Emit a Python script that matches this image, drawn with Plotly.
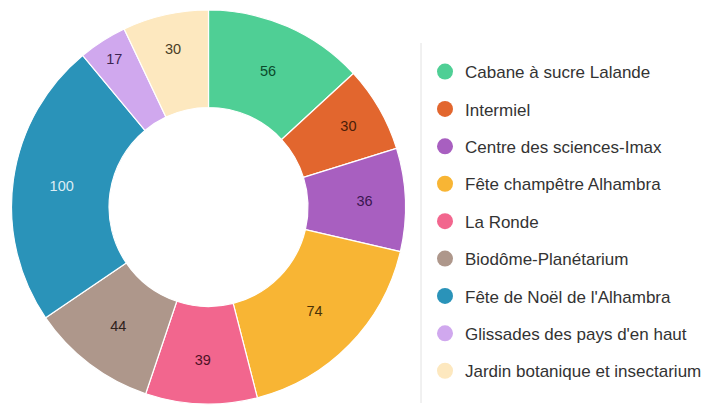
import plotly.graph_objects as go

labels = ["Cabane à sucre Lalande", "Intermiel", "Centre des sciences-Imax",
          "Fête champêtre Alhambra", "La Ronde", "Biodôme-Planétarium",
          "Fête de Noël de l'Alhambra", "Glissades des pays d'en haut",
          "Jardin botanique et insectarium"]
values = [56, 30, 36, 74, 39, 44, 100, 17, 30]
colors = ["#4fcf95", "#e2662e", "#a85fc0", "#f8b534", "#f2668e", "#ae978b",
          "#2a93b9", "#d0a8ee", "#fde8bf"]
text_colors = ["#0b4a2c", "#4a1d08", "#3a1650", "#4a3308", "#4e1226", "#2e221c",
               "#dcedf5", "#3c2450", "#4a3e26"]

W, H = 704, 406
fig = go.Figure()
fig.add_trace(go.Pie(
    labels=labels, values=values, sort=False, direction="clockwise", rotation=0,
    hole=0.505, marker=dict(colors=colors, line=dict(color="white", width=1.2)),
    textinfo="value", textposition="inside", insidetextorientation="horizontal",
    textfont=dict(size=14.5, color=text_colors, family="Liberation Sans, Arial"),
    domain=dict(x=[10 / W, 407 / W], y=[2 / H, 396 / H]),
    showlegend=False,
))
for i, (lab, col) in enumerate(zip(labels, colors)):
    fig.add_trace(go.Scatter(
        x=[None], y=[None], mode="markers", name=lab, legendgroup=f"g{i}",
        marker=dict(color=col, size=16, symbol="circle"), showlegend=True,
    ))

fig.add_shape(type="line", xref="paper", yref="paper",
              x0=421 / W, x1=421 / W, y0=(H - 43) / H, y1=(H - 403) / H,
              line=dict(color="#e2e2e2", width=1))

fig.update_layout(
    width=W, height=H, margin=dict(l=0, r=0, t=0, b=0, autoexpand=False),
    paper_bgcolor="white", plot_bgcolor="white",
    xaxis=dict(visible=False), yaxis=dict(visible=False),
    legend=dict(x=425 / W, xanchor="left", y=(H - 54) / H, yanchor="top",
                font=dict(size=17, color="#333333", family="Liberation Sans, Arial"),
                tracegroupgap=12.3, itemclick=False),
    font=dict(family="Liberation Sans, Arial"),
)
fig.write_html("out.html", config={"displayModeBar": False},
               post_script="document.body.style.margin='0';document.body.style.overflow='hidden';")
